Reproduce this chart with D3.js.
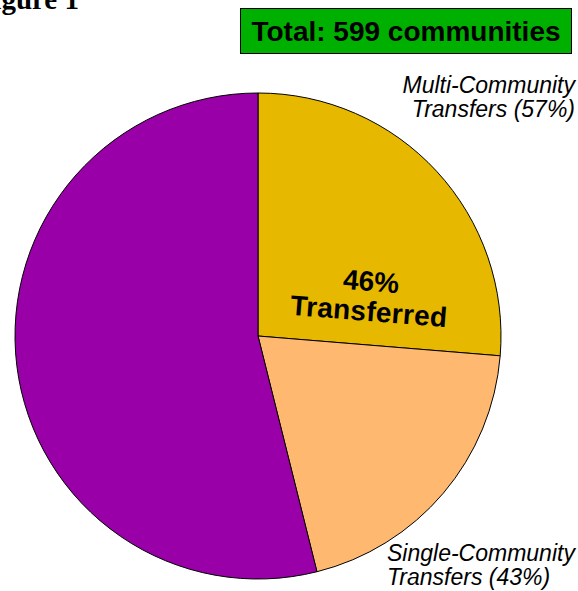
<!DOCTYPE html>
<html>
<head>
<meta charset="utf-8">
<script src="https://cdn.jsdelivr.net/npm/d3@7"></script>
<style>
body { margin: 0; background: #fff; }
svg { display: block; }
</style>
</head>
<body>
<div id="content"></div>
<script>
// shares of all communities (percent)
var categories = ['Multi-Community Transfers', 'Single-Community Transfers', 'Not Transferred'];
var shares = [26.3, 19.8, 53.9];
var colors = ['#e6b800', '#ffb870', '#9900a8'];
var totalLabel = 'Total: 599 communities';
var transferredLabel = ['46%', 'Transferred'];
var sliceLabels = [
    ['Multi-Community', 'Transfers (57%)'],
    ['Single-Community', 'Transfers (43%)']
];

var width = 578;
var height = 591;
var cx = 258;
var cy = 336;
var radius = 243;

var svg = d3.select('#content')
.append('svg')
.attr('width', width)
.attr('height', height);

// figure title, cut off at the top-left like in the source
svg.append('text')
.attr('x', 79)
.attr('y', 9)
.attr('text-anchor', 'end')
.style('font-family', '"Liberation Serif", "Times New Roman", serif')
.style('font-weight', 'bold')
.style('font-size', '29px')
.text('Figure 1');

var data = categories.map(function (c, i) {return {name: c, value: shares[i], color: colors[i]}});

var pie = d3.pie()
.sort(null)
.value(function (d) {return d.value});

var arc = d3.arc()
.innerRadius(0)
.outerRadius(radius);

var g = svg.append('g')
.attr('transform', 'translate(' + cx + ',' + cy + ')');

g.selectAll('path')
.data(pie(data))
.enter()
.append('path')
.attr('d', arc)
.attr('fill', function (d) {return d.data.color})
.attr('stroke', '#000')
.attr('stroke-width', 1);

// total box
var box = svg.append('g');
box.append('rect')
.attr('x', 240.5)
.attr('y', 8.5)
.attr('width', 331)
.attr('height', 45)
.attr('fill', '#00b000')
.attr('stroke', '#000')
.attr('stroke-width', 1);
box.append('text')
.attr('x', 406)
.attr('y', 41)
.attr('text-anchor', 'middle')
.style('font-family', '"Liberation Sans", Arial, sans-serif')
.style('font-weight', 'bold')
.style('font-size', '28px')
.text(totalLabel);

// centre label, slightly tilted
var t = svg.append('text')
.attr('transform', 'translate(370, 297) rotate(4.5)')
.attr('text-anchor', 'middle')
.style('font-family', '"Liberation Sans", Arial, sans-serif')
.style('font-weight', 'bold')
.style('font-size', '28px');
t.append('tspan').attr('x', 0).attr('y', -6).text(transferredLabel[0]);
t.append('tspan').attr('x', 0).attr('y', 24).style('letter-spacing', '0.3px').text(transferredLabel[1]);

// slice labels
function label(lines, x, y, anchor) {
    var el = svg.append('text')
    .attr('text-anchor', anchor)
    .style('font-family', '"Liberation Sans", Arial, sans-serif')
    .style('font-style', 'italic')
    .style('font-size', '23px');
    lines.forEach(function (l, i) {
        el.append('tspan').attr('x', x).attr('y', y + i * 24).text(l);
    });
}
label(sliceLabels[0], 575, 93, 'end');
label(sliceLabels[1], 387, 561, 'start');
</script>
</body>
</html>
